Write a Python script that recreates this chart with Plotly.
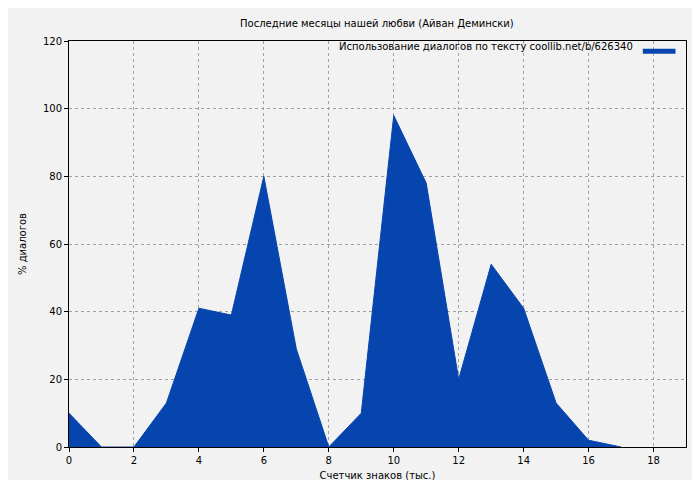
import plotly.graph_objects as go

x = list(range(18))
y = [10, 0, 0, 13, 41, 39, 80, 29, 0, 10, 98, 78, 20, 54, 41, 13, 2, 0]
series_name = "Использование диалогов по тексту coollib.net/b/626340"

fig = go.Figure(go.Scatter(x=x, y=y, mode="lines", fill="tozeroy",
                           line=dict(color="#0645ad", width=1), fillcolor="#0645ad",
                           name=series_name, showlegend=False))
ax = dict(showgrid=True, gridcolor="#a0a0a0", griddash="dot", gridwidth=1,
          showline=True, linecolor="black", mirror=True, ticks="outside",
          ticklen=4, tickcolor="black", zeroline=False, automargin=False,
          tickfont=dict(size=10))
fig.update_layout(
    width=700, height=480, paper_bgcolor="#f2f2f2", plot_bgcolor="#f2f2f2",
    font=dict(family="DejaVu Sans", size=10, color="black"),
    margin=dict(l=61, r=22, t=33, b=41),
    title=dict(text="Последние месяцы нашей любви (Айван Демински)", x=0.527, y=0.975,
               xanchor="center", font=dict(size=10)),
    xaxis=dict(ax, range=[0, 19], dtick=2,
               title=dict(text="Счетчик знаков (тыс.)", standoff=6, font=dict(size=10))),
    yaxis=dict(ax, range=[0, 120], dtick=20,
               title=dict(text="% диалогов", standoff=14, font=dict(size=10))),
    annotations=[dict(text=series_name, xref="paper", yref="paper", x=0.918, y=0.986,
                      xanchor="right", yanchor="middle", showarrow=False, font=dict(size=10))],
    shapes=[dict(type="line", xref="paper", yref="paper", x0=0.93, x1=0.983,
                 y0=0.975, y1=0.975, line=dict(color="#0645ad", width=5))],
)
fig.write_html("out.html")
